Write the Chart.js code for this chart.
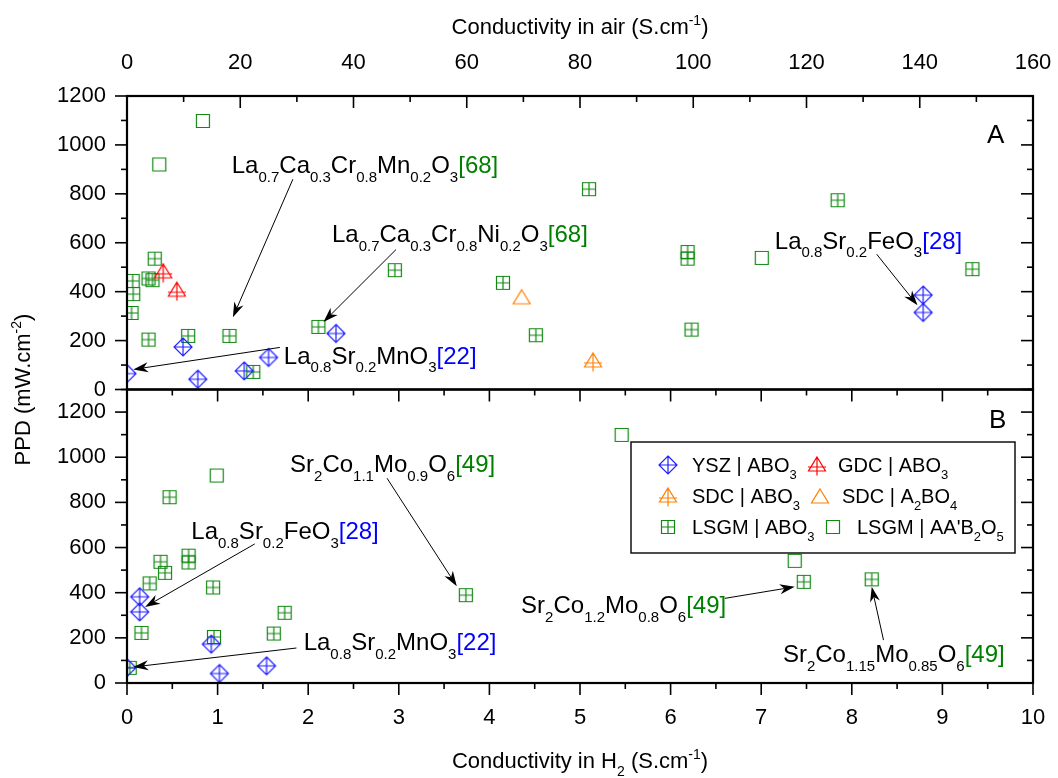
<!DOCTYPE html>
<html>
<head>
<meta charset="utf-8">
<script src="https://cdn.jsdelivr.net/npm/chart.js@4.4.1/dist/chart.umd.min.js"></script>
<style>
  html, body { margin: 0; padding: 0; background: #fff; }
</style>
</head>
<body>
<canvas id="ppdChart" width="1058" height="778"></canvas>
<script>
// Panel A: conductivity in air (S/cm) vs PPD (mW/cm2)
const yszAirX = [0, 9.9, 12.5, 20.7, 25.0, 36.9, 140.6, 140.6];
const yszAirY = [65, 174, 42, 76, 131, 229, 386, 315];
const gdcAirX = [6.4, 8.8];
const gdcAirY = [481, 406];
const sdcAboAirX = [82.3];
const sdcAboAirY = [117];
const sdcA2AirX = [69.7];
const sdcA2AirY = [379];
const lsgmAboAirX = [0.8, 1.0, 1.1, 3.8, 3.8, 4.5, 4.9, 10.8, 18.1, 22.3, 33.8, 47.3, 66.4, 72.2, 81.6, 99.0, 99.0, 99.7, 125.5, 149.3];
const lsgmAboAirY = [313, 444, 390, 204, 454, 447, 535, 219, 219, 72, 256, 488, 436, 222, 819, 562, 535, 245, 774, 492];
const lsgmAAAirX = [5.7, 13.4, 112.1];
const lsgmAAAirY = [920, 1098, 538];

// Panel B: conductivity in H2 (S/cm) vs PPD
const yszH2X = [0, 0.14, 0.14, 0.93, 1.02, 1.54];
const yszH2Y = [68, 382, 315, 172, 42, 76];
const lsgmAboH2X = [0.03, 0.16, 0.25, 0.37, 0.42, 0.47, 0.68, 0.68, 0.95, 0.96, 1.62, 1.74, 3.74, 7.47, 8.22];
const lsgmAboH2Y = [67, 222, 441, 537, 488, 823, 564, 534, 423, 204, 219, 311, 389, 448, 459];
const lsgmAAH2X = [0.99, 5.46, 7.37];
const lsgmAAH2Y = [919, 1099, 541];

// legend labels (text parts: normal / sub / sup)
const legendLabels = [
  [['YSZ | ABO'], ['3', 'sub']],
  [['GDC | ABO'], ['3', 'sub']],
  [['SDC | ABO'], ['3', 'sub']],
  [['SDC | A'], ['2', 'sub'], ['BO'], ['4', 'sub']],
  [['LSGM | ABO'], ['3', 'sub']],
  [["LSGM | AA'B"], ['2', 'sub'], ['O'], ['5', 'sub']]
];

const FONT = '"Liberation Sans", Arial, sans-serif';
const BLUE = '#1f1fff', RED = '#ff0000', ORANGE = '#ff8000', GREEN = '#118811';
const REFGREEN = '#008000', REFBLUE = '#0000ff';

// marker images
function makeMarker(kind, color) {
  const c = document.createElement('canvas');
  c.width = 22; c.height = 22;
  const g = c.getContext('2d');
  g.strokeStyle = color; g.lineWidth = 1.2;
  g.beginPath();
  if (kind === 'diamondPlus') {
    g.moveTo(11, 2); g.lineTo(20, 11); g.lineTo(11, 20); g.lineTo(2, 11); g.closePath();
    g.moveTo(11, 2); g.lineTo(11, 20); g.moveTo(2, 11); g.lineTo(20, 11);
  } else if (kind === 'triPlus') {
    g.moveTo(11, 3); g.lineTo(19.5, 17); g.lineTo(2.5, 17); g.closePath();
    g.moveTo(11, 3); g.lineTo(11, 21.5); g.moveTo(2, 13); g.lineTo(20, 13);
  } else if (kind === 'tri') {
    g.moveTo(11, 4); g.lineTo(19.5, 18); g.lineTo(2.5, 18); g.closePath();
  } else if (kind === 'squarePlus') {
    g.rect(4.5, 4.5, 13, 13);
    g.moveTo(11, 4.5); g.lineTo(11, 17.5); g.moveTo(4.5, 11); g.lineTo(17.5, 11);
  } else {
    g.rect(4.5, 4.5, 13, 13);
  }
  g.stroke();
  return c;
}
const markers = [
  makeMarker('diamondPlus', BLUE),
  makeMarker('triPlus', RED),
  makeMarker('triPlus', ORANGE),
  makeMarker('tri', ORANGE),
  makeMarker('squarePlus', GREEN),
  makeMarker('square', GREEN)
];

const pts = (xs, ys) => xs.map((x, i) => ({ x, y: ys[i] }));
function series(xs, ys, m, xId, yId) {
  return { data: pts(xs, ys), pointStyle: markers[m], pointRadius: 10, xAxisID: xId, yAxisID: yId };
}

// rich text with sub/superscripts
function partFont(mode, size) { return (mode ? Math.round(size * 0.64) : size) + 'px ' + FONT; }
function richWidth(ctx, parts, size) {
  let w = 0;
  for (const [t, mode] of parts) { ctx.font = partFont(mode, size); w += ctx.measureText(t).width; }
  return w;
}
function drawRich(ctx, x, y, parts, size, align) {
  if (align === 'center') x -= richWidth(ctx, parts, size) / 2;
  ctx.textAlign = 'left'; ctx.textBaseline = 'alphabetic';
  for (const [t, mode, color] of parts) {
    ctx.font = partFont(mode, size);
    ctx.fillStyle = color || '#000';
    const dy = mode === 'sub' ? size * 0.36 : mode === 'sup' ? -size * 0.4 : 0;
    ctx.fillText(t, x, y + dy);
    x += ctx.measureText(t).width;
  }
}
function arrow(ctx, x1, y1, x2, y2) {
  const a = Math.atan2(y2 - y1, x2 - x1), L = 15, W = 5;
  const c = Math.cos(a), s = Math.sin(a);
  ctx.beginPath(); ctx.moveTo(x1, y1); ctx.lineTo(x2 - L * 0.7 * c, y2 - L * 0.7 * s); ctx.stroke();
  ctx.beginPath(); ctx.moveTo(x2, y2);
  ctx.lineTo(x2 - L * c + W * s, y2 - L * s - W * c);
  ctx.lineTo(x2 - L * 0.7 * c, y2 - L * 0.7 * s);
  ctx.lineTo(x2 - L * c - W * s, y2 - L * s + W * c);
  ctx.closePath(); ctx.fill();
}

// annotations: text anchor + arrow tail/tip in data units of the panel
const notesA = [
  { at: [18.5, 884], tail: [29.3, 860], tip: [18.7, 295],
    parts: [['La'], ['0.7', 'sub'], ['Ca'], ['0.3', 'sub'], ['Cr'], ['0.8', 'sub'], ['Mn'], ['0.2', 'sub'], ['O'], ['3', 'sub'], ['[68]', null, REFGREEN]] },
  { at: [36.2, 603], tail: [47.5, 572], tip: [34.7, 276],
    parts: [['La'], ['0.7', 'sub'], ['Ca'], ['0.3', 'sub'], ['Cr'], ['0.8', 'sub'], ['Ni'], ['0.2', 'sub'], ['O'], ['3', 'sub'], ['[68]', null, REFGREEN]] },
  { at: [27.7, 106], tail: [27.0, 172], tip: [1.1, 82],
    parts: [['La'], ['0.8', 'sub'], ['Sr'], ['0.2', 'sub'], ['MnO'], ['3', 'sub'], ['[22]', null, REFBLUE]] },
  { at: [114.4, 576], tail: [132.4, 553], tip: [139.6, 344],
    parts: [['La'], ['0.8', 'sub'], ['Sr'], ['0.2', 'sub'], ['FeO'], ['3', 'sub'], ['[28]', null, REFBLUE]] }
];
const notesB = [
  { at: [1.80, 934], tail: [2.87, 907], tip: [3.64, 429],
    parts: [['Sr'], ['2', 'sub'], ['Co'], ['1.1', 'sub'], ['Mo'], ['0.9', 'sub'], ['O'], ['6', 'sub'], ['[49]', null, REFGREEN]] },
  { at: [0.71, 638], tail: [1.41, 616], tip: [0.20, 337],
    parts: [['La'], ['0.8', 'sub'], ['Sr'], ['0.2', 'sub'], ['FeO'], ['3', 'sub'], ['[28]', null, REFBLUE]] },
  { at: [1.95, 145], tail: [1.87, 155], tip: [0.07, 71],
    parts: [['La'], ['0.8', 'sub'], ['Sr'], ['0.2', 'sub'], ['MnO'], ['3', 'sub'], ['[22]', null, REFBLUE]] },
  { at: [4.35, 308], tail: [6.60, 375], tip: [7.37, 426],
    parts: [['Sr'], ['2', 'sub'], ['Co'], ['1.2', 'sub'], ['Mo'], ['0.8', 'sub'], ['O'], ['6', 'sub'], ['[49]', null, REFGREEN]] },
  { at: [7.24, 93], tail: [8.35, 190], tip: [8.22, 426],
    parts: [['Sr'], ['2', 'sub'], ['Co'], ['1.15', 'sub'], ['Mo'], ['0.85', 'sub'], ['O'], ['6', 'sub'], ['[49]', null, REFGREEN]] }
];

function eachTick(scale, minor, major, fn) {
  for (let v = scale.min; v <= scale.max + 1e-9; v += minor) {
    const isMajor = Math.abs(v / major - Math.round(v / major)) < 1e-6;
    fn(scale.getPixelForValue(v), isMajor ? 12 : 6);
  }
}

const decorPlugin = {
  id: 'decor',
  afterDatasetsDraw(chart) {
    const { ctx, chartArea: ca, scales } = chart;
    const xa = scales.xAir, xb = scales.xH2, ya = scales.yA, yb = scales.yB;
    ctx.save();
    ctx.strokeStyle = '#000'; ctx.fillStyle = '#000'; ctx.lineWidth = 1.6;
    const line = (x1, y1, x2, y2) => { ctx.beginPath(); ctx.moveTo(x1, y1); ctx.lineTo(x2, y2); ctx.stroke(); };

    // ticks: top of A inward, left outward, right inward
    eachTick(xa, 10, 20, (p, l) => line(p, ya.top, p, ya.top + l));
    eachTick(ya, 100, 200, (p, l) => { line(ca.left, p, ca.left - l, p); line(ca.right, p, ca.right - l, p); });
    // panel B: top inward, bottom outward
    eachTick(xb, 0.5, 1, (p, l) => { line(p, yb.top, p, yb.top + l); line(p, yb.bottom, p, yb.bottom + l); });
    eachTick(yb, 100, 200, (p, l) => { line(ca.left, p, ca.left - l, p); line(ca.right, p, ca.right - l, p); });

    ctx.lineWidth = 2.2;
    ctx.strokeRect(ca.left, ya.top, ca.right - ca.left, ya.bottom - ya.top);
    ctx.strokeRect(ca.left, yb.top, ca.right - ca.left, yb.bottom - yb.top);

    // axis titles
    const mid = (ca.left + ca.right) / 2;
    drawRich(ctx, mid, 34, [['Conductivity in air (S.cm'], ['-1', 'sup'], [')']], 22, 'center');
    drawRich(ctx, mid, 768, [['Conductivity in H'], ['2', 'sub'], [' (S.cm'], ['-1', 'sup'], [')']], 22, 'center');
    ctx.save();
    ctx.translate(30, (ya.top + yb.bottom) / 2);
    ctx.rotate(-Math.PI / 2);
    drawRich(ctx, 0, 0, [['PPD (mW.cm'], ['-2', 'sup'], [')']], 22, 'center');
    ctx.restore();

    // panel letters
    drawRich(ctx, ca.right - 46, ya.top + 47, [['A']], 26);
    drawRich(ctx, ca.right - 44, yb.top + 38, [['B']], 26);

    // annotations
    ctx.lineWidth = 1;
    for (const [notes, sx, sy] of [[notesA, xa, ya], [notesB, xb, yb]]) {
      for (const n of notes) {
        drawRich(ctx, sx.getPixelForValue(n.at[0]), sy.getPixelForValue(n.at[1]), n.parts, 24);
        ctx.strokeStyle = '#000'; ctx.fillStyle = '#000';
        arrow(ctx, sx.getPixelForValue(n.tail[0]), sy.getPixelForValue(n.tail[1]),
              sx.getPixelForValue(n.tip[0]), sy.getPixelForValue(n.tip[1]));
      }
    }

    // legend box in panel B
    const bx = 631, by = 442, bw = 384, bh = 111;
    ctx.fillStyle = '#fff'; ctx.fillRect(bx, by, bw, bh);
    ctx.strokeStyle = '#000'; ctx.lineWidth = 1.4; ctx.strokeRect(bx, by, bw, bh);
    const slots = [[668, 465, 692], [817, 465, 838], [668, 496, 692], [820, 496, 842], [668, 527, 692], [833, 527, 857]];
    legendLabels.forEach((parts, i) => {
      const [mx, my, tx] = slots[i];
      ctx.drawImage(markers[i], mx - 11, my - 11);
      drawRich(ctx, tx, my + 7, parts, 20);
    });
    ctx.restore();
  }
};

const tickFont = { family: FONT, size: 22 };
const plain = v => String(v);
new Chart(document.getElementById('ppdChart'), {
  type: 'scatter',
  data: {
    datasets: [
      series(yszAirX, yszAirY, 0, 'xAir', 'yA'),
      series(gdcAirX, gdcAirY, 1, 'xAir', 'yA'),
      series(sdcAboAirX, sdcAboAirY, 2, 'xAir', 'yA'),
      series(sdcA2AirX, sdcA2AirY, 3, 'xAir', 'yA'),
      series(lsgmAboAirX, lsgmAboAirY, 4, 'xAir', 'yA'),
      series(lsgmAAAirX, lsgmAAAirY, 5, 'xAir', 'yA'),
      series(yszH2X, yszH2Y, 0, 'xH2', 'yB'),
      series(lsgmAboH2X, lsgmAboH2Y, 4, 'xH2', 'yB'),
      series(lsgmAAH2X, lsgmAAH2Y, 5, 'xH2', 'yB')
    ]
  },
  options: {
    responsive: false,
    animation: false,
    layout: { padding: { left: 0, right: 25, top: 0, bottom: 0 } },
    plugins: { legend: { display: false }, tooltip: { enabled: false } },
    scales: {
      xAir: {
        type: 'linear', position: 'top', min: 0, max: 160,
        ticks: { stepSize: 20, padding: 20, font: tickFont, color: '#000', callback: plain },
        grid: { display: false, drawTicks: false }, border: { display: false },
        afterFit(s) { s.height = 96; s.paddingLeft = 0; s.paddingRight = 0; }
      },
      xH2: {
        type: 'linear', position: 'bottom', min: 0, max: 10,
        ticks: { stepSize: 1, padding: 22, font: tickFont, color: '#000', callback: plain },
        grid: { display: false, drawTicks: false }, border: { display: false },
        afterFit(s) { s.height = 95; s.paddingLeft = 0; s.paddingRight = 0; }
      },
      // left stack: the later-defined axis is placed on top
      yB: {
        type: 'linear', position: 'left', stack: 'ppd', stackWeight: 1, min: 0, max: 1300,
        ticks: { stepSize: 200, padding: 21, includeBounds: false, font: tickFont, color: '#000', callback: plain },
        grid: { display: false, drawTicks: false }, border: { display: false },
        afterFit(s) { s.width = 127; }
      },
      yA: {
        type: 'linear', position: 'left', stack: 'ppd', stackWeight: 1, min: 0, max: 1200,
        ticks: { stepSize: 200, padding: 21, font: tickFont, color: '#000', callback: plain },
        grid: { display: false, drawTicks: false }, border: { display: false },
        afterFit(s) { s.width = 127; }
      }
    }
  },
  plugins: [decorPlugin]
});
</script>
</body>
</html>
